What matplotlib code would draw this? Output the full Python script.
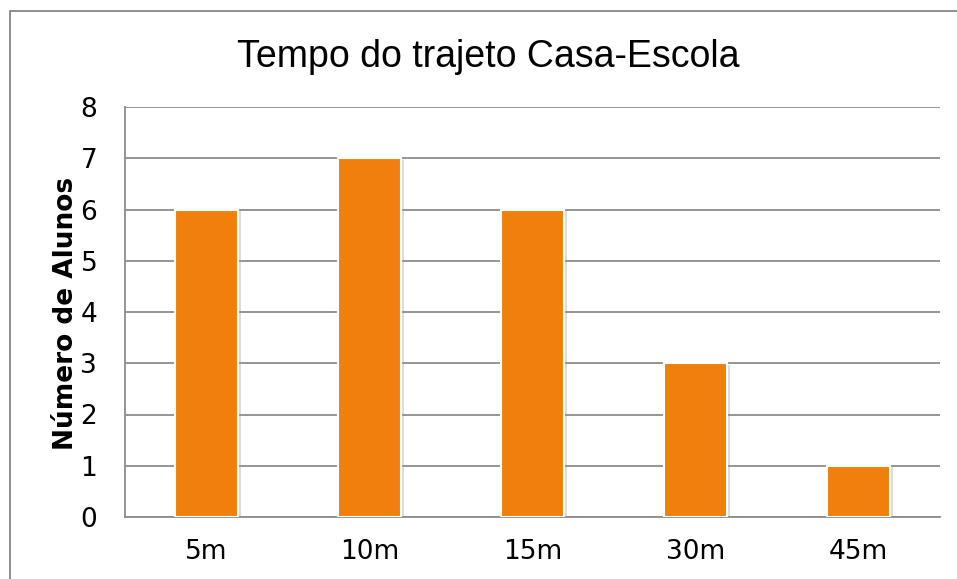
import numpy as np
import matplotlib
matplotlib.use("Agg")
import matplotlib.pyplot as plt
from matplotlib.patches import Rectangle
import matplotlib.patheffects as pe

categorias = ["5m", "10m", "15m", "30m", "45m"]
alunos = [6, 7, 6, 3, 1]
y_ticks = [0, 1, 2, 3, 4, 5, 6, 7, 8]

W, H = 957, 579
fig = plt.figure(figsize=(W / 100, H / 100), dpi=100)

# outer chart border (cut off at right and bottom in the original)
fig.patches.append(Rectangle((10 / W, -0.1), 1.2, 1 - 11 / H + 0.1,
                             transform=fig.transFigure, fill=False,
                             edgecolor="#868686", linewidth=1.3))

ax = fig.add_axes([125 / W, 1 - 517 / H, 815 / W, 410 / H])

x = np.arange(len(categorias))
ax.bar(x, alunos, width=0.39, color="#F0800B", edgecolor="white", linewidth=1.5, zorder=3,
       path_effects=[pe.SimplePatchShadow(offset=(2, -1), shadow_rgbFace="#999999", alpha=0.35),
                     pe.Normal()])

ax.set_xlim(-0.5, len(categorias) - 0.5)
ax.set_ylim(0, 8)
ax.set_yticks(y_ticks)
ax.set_xticks(x)
ax.set_xticklabels(categorias)
ax.yaxis.grid(True, color="#8c8c8c", linewidth=1.3, zorder=0)
ax.set_axisbelow(True)

for s in ["top", "right"]:
    ax.spines[s].set_visible(False)
for s in ["left", "bottom"]:
    ax.spines[s].set_color("#8c8c8c")
    ax.spines[s].set_linewidth(1.3)

ax.tick_params(axis="both", length=0, labelsize=19, colors="black")
ax.tick_params(axis="y", pad=20)
ax.tick_params(axis="x", pad=16)

fig.text(488 / W, 1 - 67 / H, "Tempo do trajeto Casa-Escola", ha="center", va="baseline",
         fontsize=27, family="Liberation Sans")
fig.text(66 / W, 1 - 313 / H, "Número de Alunos", rotation=90, ha="center", va="center",
         fontsize=19, fontweight="bold")

fig.savefig("out.png", dpi=100)
